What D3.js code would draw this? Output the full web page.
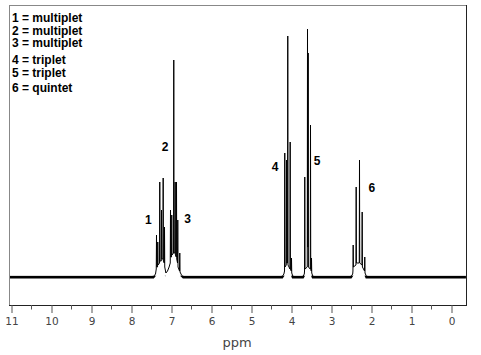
<!DOCTYPE html>
<html><head><meta charset="utf-8">
<script src="https://cdn.jsdelivr.net/npm/d3@7"></script>
<style>body{margin:0;background:#fff}svg{display:block}</style>
</head><body>
<script>
// ---- data ----
const majorTicks = [11,10,9,8,7,6,5,4,3,2,1,0];
const minorTicks = [10.5,9.5,8.5,7.5,6.5,5.5,4.5,3.5,2.5,1.5,0.5];
const legendLines = ["1 = multiplet","2 = multiplet","3 = multiplet","4 = triplet","5 = triplet","6 = quintet"];
const peakLabels = ["1","2","3","4","5","6"];
const peakLabelPpm = [7.58, 7.16, 6.6, 4.41, 3.36, 1.99];
const peakLabelInt = [57, 130, 58, 110, 116, 89];
// spectrum: [ppm, intensity]
const spectrum = [
 [11.06,0],[7.46,0],[7.40,3],
 [7.381,8],[7.375,42],[7.369,10],
 [7.349,10],[7.343,35],[7.337,12],
 [7.299,14],[7.293,95],[7.287,16],
 [7.256,16],[7.25,67],[7.244,18],
 [7.214,18],[7.208,99],[7.202,16],
 [7.181,14],[7.175,50],[7.169,10],
 [7.14,4],[7.10,6],[7.06,10],
 [7.031,14],[7.025,67],[7.019,20],
 [6.999,20],[6.993,62],[6.987,22],
 [6.949,24],[6.943,217],[6.937,24],
 [6.914,24],[6.908,95],[6.902,22],
 [6.881,20],[6.875,95],[6.869,18],
 [6.849,14],[6.843,57],[6.837,10],
 [6.799,6],[6.793,24],[6.787,5],
 [6.75,2],[6.7,0],
 [4.24,0],[4.19,3],[4.174,6],[4.168,124],[4.162,10],[4.131,12],[4.125,117],[4.119,14],
 [4.099,14],[4.093,241],[4.087,12],[4.039,8],[4.033,135],[4.027,8],[4.006,6],[4.0,19],[3.994,4],[3.96,0],
 [3.72,0],[3.68,3],[3.674,6],[3.668,100],[3.662,8],[3.606,10],[3.6,248],[3.594,30],[3.589,30],
 [3.583,224],[3.577,10],[3.531,8],[3.525,152],[3.519,8],[3.506,6],[3.5,19],[3.494,4],[3.46,0],
 [2.52,0],[2.47,3],[2.464,6],[2.458,32],[2.452,10],[2.389,12],[2.383,90],[2.377,14],[2.306,14],
 [2.3,117],[2.294,14],[2.239,12],[2.233,65],[2.227,10],[2.174,6],[2.168,20],[2.162,4],[2.12,0],
 [-0.36,0]
];

// ---- drawing ----
const W = 481, H = 355;
const svg = d3.select("body").append("svg").attr("width", W).attr("height", H);
const x = d3.scaleLinear().domain([11.0625, -0.3625]).range([9, 466]);
const y = d3.scaleLinear().domain([-28, 272]).range([305, 5]);

svg.append("defs").append("clipPath").attr("id","base")
  .append("rect").attr("x",10).attr("y",275.8).attr("width",456).attr("height",3.2);

const line = d3.line().x(d => x(d[0])).y(d => y(d[1]));
svg.append("path").datum(spectrum).attr("d", line)
  .attr("fill","none").attr("stroke","#000").attr("stroke-width",1);
svg.append("path").datum(spectrum).attr("d", line).attr("clip-path","url(#base)")
  .attr("fill","none").attr("stroke","#000").attr("stroke-width",3);

// frame
const f = svg.append("g").attr("fill","none").attr("shape-rendering","crispEdges");
f.append("line").attr("x1",9).attr("x2",466).attr("y1",5.5).attr("y2",5.5).attr("stroke","#888");
f.append("line").attr("x1",9.5).attr("x2",9.5).attr("y1",5).attr("y2",305).attr("stroke","#888");
f.append("line").attr("x1",466.5).attr("x2",466.5).attr("y1",5).attr("y2",305).attr("stroke","#222");
f.append("line").attr("x1",9).attr("x2",467).attr("y1",305.5).attr("y2",305.5).attr("stroke","#222");

// axis
const ax = svg.append("g").attr("transform","translate(0,305)")
  .call(d3.axisBottom(x).tickValues(majorTicks).tickSize(8).tickPadding(5).tickFormat(d3.format("d")));
ax.select(".domain").remove();
ax.selectAll(".tick line").attr("stroke","#555");
ax.selectAll("text").attr("font-family","DejaVu Sans").attr("font-size","10.5px").attr("fill","#444");
svg.append("g").selectAll("line").data(minorTicks).join("line")
  .attr("x1", d => x(d)).attr("x2", d => x(d)).attr("y1",305).attr("y2",309.5)
  .attr("stroke","#555");

svg.append("text").attr("x",237).attr("y",347).attr("text-anchor","middle")
  .attr("font-family","DejaVu Sans").attr("font-size","13px").attr("fill","#444").text("ppm");

// legend
const legY = [22, 34.5, 47, 64, 76.5, 92];
svg.append("g").selectAll("text").data(legendLines).join("text")
  .attr("x",12).attr("y",(d,i)=>legY[i])
  .attr("font-family","Liberation Sans, Arial").attr("font-weight","bold").attr("font-size","12px")
  .attr("fill","#000").text(d=>d);

// peak labels
svg.append("g").selectAll("text").data(peakLabels).join("text")
  .attr("x",(d,i)=>x(peakLabelPpm[i])).attr("y",(d,i)=>y(peakLabelInt[i]))
  .attr("dy","0.36em").attr("text-anchor","middle")
  .attr("font-family","Liberation Sans, Arial").attr("font-weight","bold").attr("font-size","12px")
  .attr("fill","#000").text(d=>d);
</script>
</body></html>
